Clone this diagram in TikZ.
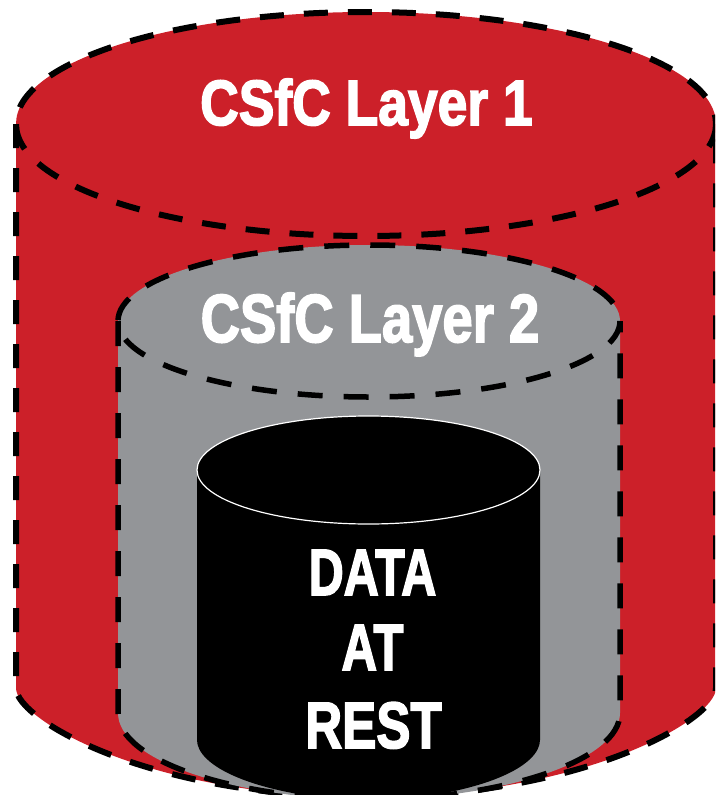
\documentclass[tikz,border=0pt]{standalone}
\usepackage{fontspec}
\setmainfont{Liberation Sans}
\newfontfamily\lblfont[FakeBold=2.6]{Liberation Sans Bold}
\usepackage{graphicx}
\definecolor{csred}{RGB}{204,32,41}
\definecolor{csgray}{RGB}{147,149,152}
\begin{document}
\begin{tikzpicture}[x=1pt,y=-1pt,
  dashline/.style={line width=6pt, dash pattern=on 24pt off 20pt},
  dashthin/.style={line width=5.5pt, dash pattern=on 25pt off 21pt},
  lbl/.style={text=white, anchor=base, inner sep=0pt}]
\useasboundingbox (0,0) rectangle (715,795);
\clip (0,0) rectangle (715,795);
% outer red cylinder
\fill[csred] (16,124) -- (16,688) .. controls (16,720) and (150,797) .. (366,797)
  .. controls (582,797) and (716,720) .. (716,688) -- (716,124) -- cycle;
\fill[csred] (366,124) ellipse [x radius=350, y radius=112];
\draw[dashline] (366,124) ellipse [x radius=350, y radius=112];
\draw[dashline] (16,124) -- (16,688) .. controls (16,720) and (150,797) .. (366,797)
  .. controls (582,797) and (716,720) .. (716,688) -- (716,124);
% gray cylinder
\fill[csgray] (118,321) -- (118,713) .. controls (118,760) and (230,798) .. (369,800)
  .. controls (508,798) and (620,760) .. (620,713) -- (620,321) -- cycle;
\fill[csgray] (369,321) ellipse [x radius=251, y radius=76];
\draw[dashthin] (369,321) ellipse [x radius=251, y radius=76];
\draw[dashthin] (118,321) -- (118,713) .. controls (118,760) and (230,798) .. (369,800)
  .. controls (508,798) and (620,760) .. (620,713) -- (620,321);
% black cylinder
\fill[black] (197,470) -- (197,740) .. controls (197,765) and (250,795) .. (368.5,802)
  .. controls (487,795) and (540,765) .. (540,740) -- (540,470) -- cycle;
\fill[black] (368.5,470) ellipse [x radius=171.5, y radius=54];
\draw[white, line width=1.2pt] (368.5,470) ellipse [x radius=171.5, y radius=54];
% labels
\node[lbl, font=\lblfont\fontsize{64}{64}\selectfont] (l1) at (366.5,125) {\scalebox{0.835}[1]{CSfC Layer 1}};
\node[lbl, font=\lblfont\fontsize{68}{68}\selectfont] (l2) at (370,342) {\scalebox{0.80}[1]{CSfC Layer 2}};
\node[lbl, font=\lblfont\fontsize{65.6}{65.6}\selectfont] (d1) at (372.5,595) {\scalebox{0.74}[1]{DATA}};
\node[lbl, font=\lblfont\fontsize{65.6}{65.6}\selectfont] (d2) at (372.5,670) {\scalebox{0.75}[1]{AT}};
\node[lbl, font=\lblfont\fontsize{65.6}{65.6}\selectfont] (d3) at (373.5,748) {\scalebox{0.78}[1]{REST}};
\end{tikzpicture}
\end{document}
